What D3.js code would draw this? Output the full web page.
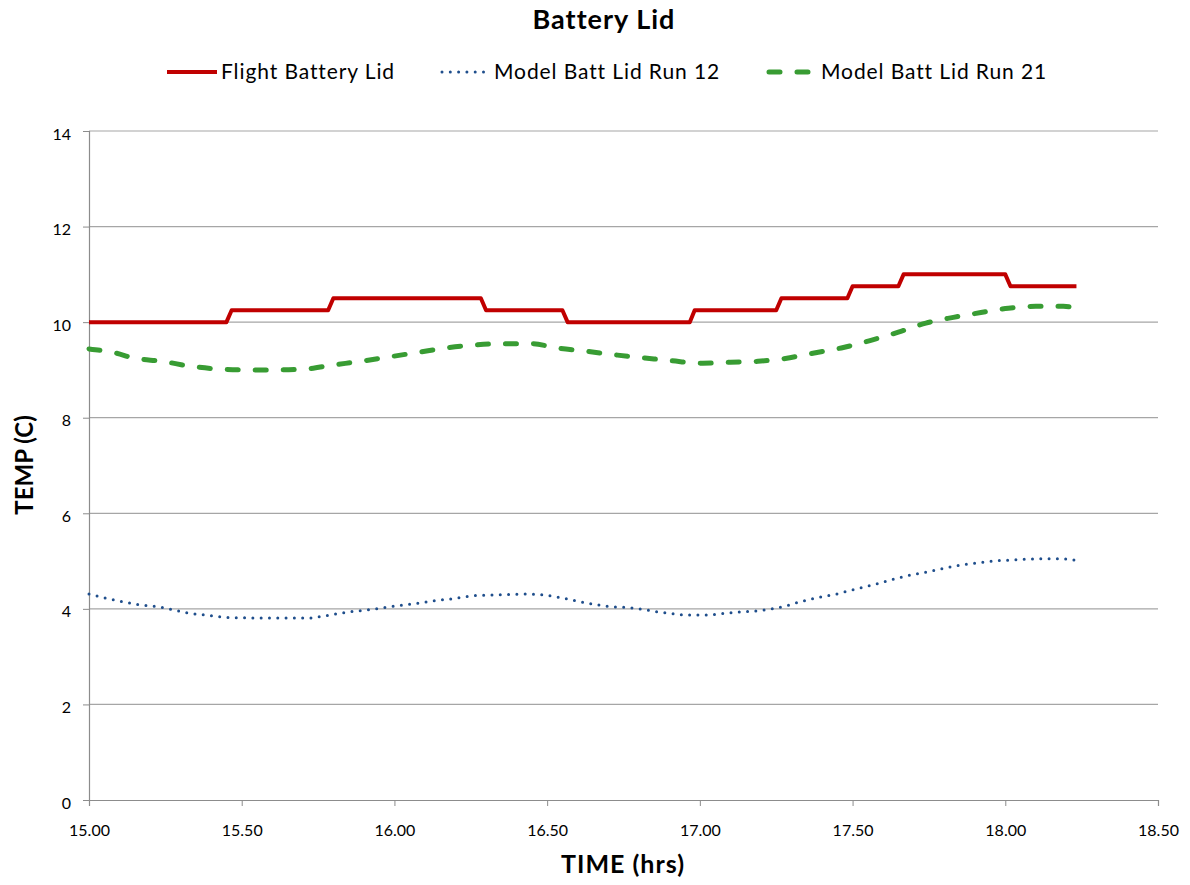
<!DOCTYPE html>
<html>
<head>
<meta charset="utf-8">
<script src="https://cdn.jsdelivr.net/npm/d3@7"></script>
<style>
body { margin: 0; background: #fff; }
text { font-family: "Lato", sans-serif; fill: #000; }
</style>
</head>
<body>
<script>
// chart data
const flightTime = [15.00, 15.45, 15.467, 15.783, 15.80, 16.283, 16.30, 16.55, 16.567, 16.967, 16.983,
	17.25, 17.267, 17.483, 17.50, 17.65, 17.667, 18.00, 18.017, 18.233];
const flightTemp = [10, 10, 10.25, 10.25, 10.5, 10.5, 10.25, 10.25, 10, 10, 10.25,
	10.25, 10.5, 10.5, 10.75, 10.75, 11, 11, 10.75, 10.75];

const run21Time = [15.00, 15.09, 15.145, 15.24, 15.33, 15.42, 15.52, 15.61, 15.71, 15.795, 15.89, 15.98,
	16.08, 16.17, 16.26, 16.35, 16.45, 16.53, 16.63, 16.73, 16.82, 16.91, 17.01, 17.10, 17.19, 17.28,
	17.37, 17.47, 17.56, 17.65, 17.74, 17.83, 17.92, 18.01, 18.10, 18.19, 18.233];
const run21Temp = [9.44, 9.35, 9.25, 9.18, 9.08, 9.02, 9.0, 9.0, 9.02, 9.1, 9.18, 9.27,
	9.37, 9.46, 9.52, 9.55, 9.55, 9.46, 9.39, 9.31, 9.25, 9.19, 9.14, 9.16, 9.18, 9.24,
	9.35, 9.47, 9.62, 9.79, 9.98, 10.1, 10.2, 10.29, 10.33, 10.33, 10.29];

const run12Time = [15.00, 15.05, 15.11, 15.16, 15.22, 15.27, 15.32, 15.38, 15.46, 15.55, 15.65, 15.73,
	15.76, 15.815, 15.87, 15.93, 15.98, 16.03, 16.09, 16.14, 16.20, 16.25, 16.31, 16.36, 16.44, 16.54,
	16.60, 16.65, 16.70, 16.755, 16.81, 16.86, 16.91, 16.965, 17.02, 17.07, 17.12, 17.17, 17.225,
	17.28, 17.33, 17.38, 17.44, 17.49, 17.54, 17.59, 17.645, 17.70, 17.75, 17.80, 17.855, 17.91,
	17.96, 18.01, 18.07, 18.12, 18.17, 18.22, 18.233];
const run12Temp = [4.31, 4.23, 4.15, 4.09, 4.05, 3.99, 3.92, 3.87, 3.82, 3.81, 3.81, 3.81,
	3.84, 3.90, 3.95, 3.99, 4.04, 4.08, 4.13, 4.18, 4.22, 4.27, 4.29, 4.30, 4.31, 4.24,
	4.16, 4.10, 4.05, 4.03, 3.99, 3.94, 3.90, 3.87, 3.87, 3.90, 3.93, 3.95, 3.99,
	4.06, 4.15, 4.23, 4.30, 4.38, 4.46, 4.54, 4.64, 4.72, 4.78, 4.85, 4.92, 4.96,
	5.0, 5.02, 5.04, 5.05, 5.05, 5.03, 5.01];

const xTicks = [15, 15.5, 16, 16.5, 17, 17.5, 18, 18.5];
const yTicks = [0, 2, 4, 6, 8, 10, 12, 14];

const seriesNames = ["Flight Battery Lid", "Model Batt Lid Run 12", "Model Batt Lid Run 21"];

const width = 1190, height = 885;
const plotLeft = 89, plotRight = 1158, plotTop = 131, plotBottom = 800;

let xScale = d3.scaleLinear().domain([15, 18.5]).range([plotLeft, plotRight]);
let yScale = d3.scaleLinear().domain([0, 14]).range([plotBottom, plotTop]);

let svg = d3.select("body").append("svg")
	.attr("width", width)
	.attr("height", height);

// gridlines
svg.append("g")
	.selectAll("line")
	.data(yTicks.filter(d => d > 0))
	.enter().append("line")
	.attr("x1", plotLeft).attr("x2", plotRight)
	.attr("y1", d => yScale(d)).attr("y2", d => yScale(d))
	.attr("stroke", "#a6a6a6")
	.attr("stroke-width", 1.2);

// x axis
let xAxis = svg.append("g")
	.attr("transform", `translate(0,${plotBottom})`)
	.call(d3.axisBottom(xScale).tickValues(xTicks).tickFormat(d3.format(".2f")).tickSize(6).tickPadding(19));
xAxis.select(".domain").attr("stroke", "#8c8c8c").attr("stroke-width", 1.2);
xAxis.selectAll(".tick line").attr("stroke", "#8c8c8c");
xAxis.selectAll("text").attr("font-size", 16).style("font-family", "Lato, sans-serif");

// y axis
let yAxis = svg.append("g")
	.attr("transform", `translate(${plotLeft},0)`)
	.call(d3.axisLeft(yScale).tickValues(yTicks).tickFormat(d3.format("d")).tickSize(6).tickPadding(12));
yAxis.select(".domain").attr("stroke", "#8c8c8c").attr("stroke-width", 1.2);
yAxis.selectAll(".tick line").attr("stroke", "#8c8c8c");
yAxis.selectAll("text").attr("font-size", 16).attr("dy", "0.5em").style("font-family", "Lato, sans-serif");

// lines
const zipped = (ts, vs) => ts.map((t, i) => [t, vs[i]]);

let straight = d3.line()
	.x(d => xScale(d[0]))
	.y(d => yScale(d[1]));

let smooth = d3.line()
	.curve(d3.curveMonotoneX)
	.x(d => xScale(d[0]))
	.y(d => yScale(d[1]));

svg.append("path")
	.attr("d", smooth(zipped(run12Time, run12Temp)))
	.attr("fill", "none")
	.attr("stroke", "#1f4e8c")
	.attr("stroke-width", 3)
	.attr("stroke-linecap", "round")
	.attr("stroke-dasharray", "0 8.3");

svg.append("path")
	.attr("d", smooth(zipped(run21Time, run21Temp)))
	.attr("fill", "none")
	.attr("stroke", "#389c33")
	.attr("stroke-width", 5)
	.attr("stroke-linecap", "round")
	.attr("stroke-dasharray", "11 17");

svg.append("path")
	.attr("d", straight(zipped(flightTime, flightTemp)))
	.attr("fill", "none")
	.attr("stroke", "#c00000")
	.attr("stroke-width", 4)
	.attr("stroke-linejoin", "round");

// title
svg.append("text")
	.attr("x", 604).attr("y", 29)
	.attr("text-anchor", "middle")
	.attr("font-size", 27).attr("font-weight", "bold")
	.attr("letter-spacing", 1)
	.text("Battery Lid");

// legend
const legendItems = [
	{x: 167, color: "#c00000", w: 4, dash: null, cap: "butt"},
	{x: 440, color: "#1f4e8c", w: 3, dash: "0 8.3", cap: "round"},
	{x: 767, color: "#389c33", w: 5, dash: "11 17", cap: "round"}
];
let legend = svg.append("g")
	.selectAll("g")
	.data(legendItems)
	.enter().append("g");
legend.append("line")
	.attr("x1", d => d.x + (d.cap === "round" ? 2 : 0)).attr("x2", d => d.x + 50)
	.attr("y1", 72).attr("y2", 72)
	.attr("stroke", d => d.color)
	.attr("stroke-width", d => d.w)
	.attr("stroke-linecap", d => d.cap)
	.attr("stroke-dasharray", d => d.dash);
legend.append("text")
	.attr("x", d => d.x + 54)
	.attr("y", 79)
	.attr("font-size", 21)
	.attr("letter-spacing", 0.9)
	.text((d, i) => seriesNames[i]);

// axis titles
svg.append("text")
	.attr("x", 623).attr("y", 873)
	.attr("text-anchor", "middle")
	.attr("font-size", 25).attr("font-weight", "bold")
	.attr("letter-spacing", 1)
	.text("TIME (hrs)");

svg.append("text")
	.attr("transform", "translate(33,465) rotate(-90)")
	.attr("text-anchor", "middle")
	.attr("font-size", 24).attr("font-weight", "bold")
	.text("TEMP (C)");
</script>
</body>
</html>
